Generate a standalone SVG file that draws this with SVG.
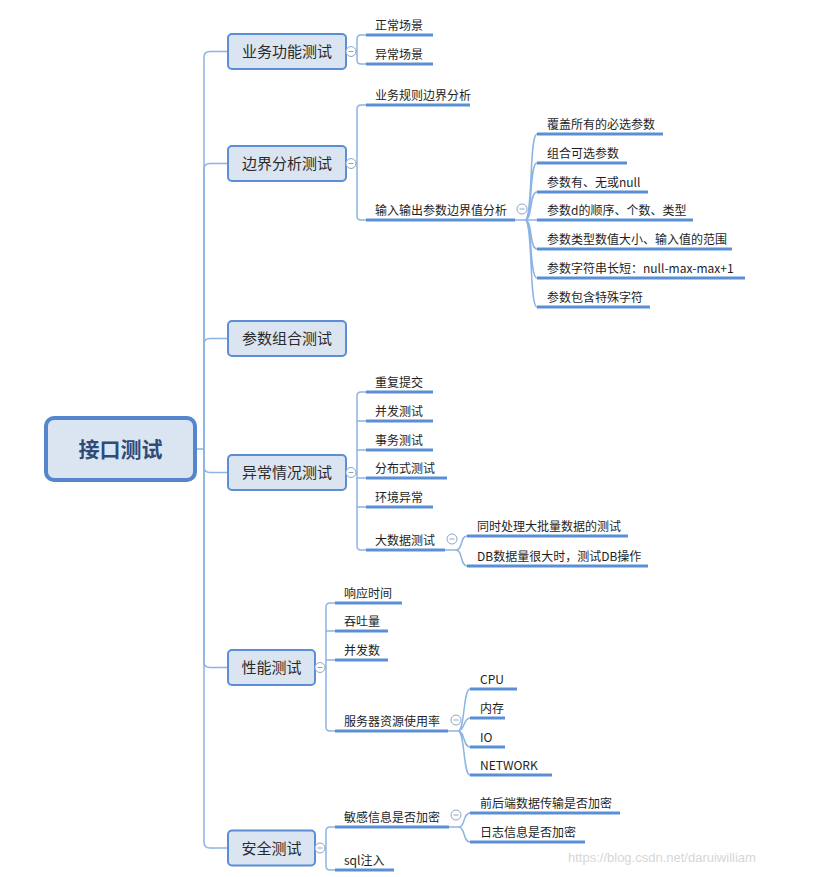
<svg xmlns="http://www.w3.org/2000/svg" width="814" height="877" viewBox="0 0 814 877">
<style>
text{font-family:"Microsoft YaHei","Noto Sans CJK SC","Noto Sans",sans-serif;fill:#1e1e1e}
.root rect{fill:#dbe5f1;stroke:#5585cc;stroke-width:4}
.root text{font-size:21px;font-weight:bold;fill:#2f4b7a;text-anchor:middle}
.n1 rect{fill:#dbe5f1;stroke:#5b8ed4;stroke-width:2}
.n1 text{font-size:15px;fill:#2a2a2a;text-anchor:middle}
.lf text{font-size:12px}
.lf line{stroke:#5a8fd6;stroke-width:3}
.c{stroke:#8db4e4;stroke-width:1.5;fill:none}
.col circle{fill:#fff;stroke:#8ea6c4;stroke-width:1}
.col line{stroke:#8ea6c4;stroke-width:1}
.wm{font-family:"Liberation Sans",Arial,sans-serif;font-size:13px;fill:#d6d6d6}
</style>
<g id="connectors">
<path class="c" d="M195 449H204V57Q204 51.5 210 51.5H228"/>
<path class="c" d="M204 449V169Q204 163.5 210 163.5H228"/>
<path class="c" d="M204 449V344Q204 338.5 210 338.5H228"/>
<path class="c" d="M204 449V467Q204 472.5 210 472.5H228"/>
<path class="c" d="M204 449V662Q204 667.5 210 667.5H228"/>
<path class="c" d="M204 449V842Q204 848 210 848H228"/>
<path class="c" d="M346 51.5H357M357 51.5V39Q357 35 361 35H366M357 51.5V60Q357 64 361 64H366"/>
<path class="c" d="M346 163.5H357M357 163.5V109Q357 105 361 105H366M357 163.5V216Q357 220 361 220H366"/>
<path class="c" d="M346 472.5H357M357 472.5V396Q357 392 361 392H366M357 421H366M357 450H366M357 478H366M357 507H366M357 472.5V546Q357 550 361 550H366"/>
<path class="c" d="M315 667.5H326M326 667.5V607Q326 603 330 603H335M326 631H335M326 660H335M326 667.5V727Q326 731 330 731H335"/>
<path class="c" d="M315 848H326M326 848V831Q326 827 330 827H335M326 848V866Q326 870 330 870H335"/>
<path class="c" d="M515 220H525C533 220 529 134 537 134M525 220C533 220 529 163 537 163M525 220C533 220 529 192 537 192M525 220H537M525 220C533 220 529 249 537 249M525 220C533 220 529 278 537 278M525 220C533 220 529 307 537 307"/>
<path class="c" d="M445 550H456C463 550 460 536 467 536M456 550C463 550 460 566 467 566"/>
<path class="c" d="M448 731H458C465 731 463 689 470 689M458 731C465 731 463 718 470 718M458 731C465 731 463 747 470 747M458 731C465 731 463 775 470 775"/>
<path class="c" d="M449 827H459C465 827 463 813 470 813M459 827C465 827 463 842 470 842"/>
</g>
<g id="root" class="root"><rect x="46" y="418" width="149" height="62" rx="8"/><text x="120.5" y="457">接口测试</text></g>
<g id="n-yewu" class="n1"><rect x="228" y="34" width="118" height="35" rx="4"/><text x="287" y="57">业务功能测试</text></g>
<g id="n-bianjie" class="n1"><rect x="228" y="146" width="118" height="35" rx="4"/><text x="287" y="169">边界分析测试</text></g>
<g id="n-canshu" class="n1"><rect x="228" y="321" width="118" height="35" rx="4"/><text x="287" y="344">参数组合测试</text></g>
<g id="n-yichang" class="n1"><rect x="228" y="455" width="118" height="35" rx="4"/><text x="287" y="478">异常情况测试</text></g>
<g id="n-xingneng" class="n1"><rect x="228" y="650" width="87" height="35" rx="4"/><text x="271.5" y="673">性能测试</text></g>
<g id="n-anquan" class="n1"><rect x="228" y="830.5" width="87" height="35" rx="4"/><text x="271.5" y="853.5">安全测试</text></g>
<g id="leaves" class="lf">
<g id="l1"><line x1="366" y1="35" x2="433" y2="35"/><text x="375" y="30">正常场景</text></g>
<g id="l2"><line x1="366" y1="64" x2="433" y2="64"/><text x="375" y="59">异常场景</text></g>
<g id="l3"><line x1="366" y1="105" x2="470" y2="105"/><text x="375" y="100">业务规则边界分析</text></g>
<g id="l4"><line x1="366" y1="220" x2="515" y2="220"/><text x="375" y="215">输入输出参数边界值分析</text></g>
<g id="l5"><line x1="537" y1="134" x2="663" y2="134"/><text x="547" y="129">覆盖所有的必选参数</text></g>
<g id="l6"><line x1="537" y1="163" x2="627" y2="163"/><text x="547" y="158">组合可选参数</text></g>
<g id="l7"><line x1="537" y1="192" x2="648" y2="192"/><text x="547" y="187">参数有、无或null</text></g>
<g id="l8"><line x1="537" y1="220" x2="693" y2="220"/><text x="547" y="215">参数d的顺序、个数、类型</text></g>
<g id="l9"><line x1="537" y1="249" x2="732" y2="249"/><text x="547" y="244">参数类型数值大小、输入值的范围</text></g>
<g id="l10"><line x1="537" y1="278" x2="745" y2="278"/><text x="547" y="273">参数字符串长短：null-max-max+1</text></g>
<g id="l11"><line x1="537" y1="307" x2="650" y2="307"/><text x="547" y="302">参数包含特殊字符</text></g>
<g id="l12"><line x1="366" y1="392" x2="433" y2="392"/><text x="375" y="387">重复提交</text></g>
<g id="l13"><line x1="366" y1="421" x2="433" y2="421"/><text x="375" y="416">并发测试</text></g>
<g id="l14"><line x1="366" y1="450" x2="433" y2="450"/><text x="375" y="445">事务测试</text></g>
<g id="l15"><line x1="366" y1="478" x2="447" y2="478"/><text x="375" y="473">分布式测试</text></g>
<g id="l16"><line x1="366" y1="507" x2="433" y2="507"/><text x="375" y="502">环境异常</text></g>
<g id="l17"><line x1="366" y1="550" x2="445" y2="550"/><text x="375" y="545">大数据测试</text></g>
<g id="l18"><line x1="467" y1="536" x2="628" y2="536"/><text x="477" y="531">同时处理大批量数据的测试</text></g>
<g id="l19"><line x1="467" y1="566" x2="648" y2="566"/><text x="477" y="561">DB数据量很大时，测试DB操作</text></g>
<g id="l20"><line x1="335" y1="603" x2="402" y2="603"/><text x="344" y="598">响应时间</text></g>
<g id="l21"><line x1="335" y1="631" x2="388" y2="631"/><text x="344" y="626">吞吐量</text></g>
<g id="l22"><line x1="335" y1="660" x2="388" y2="660"/><text x="344" y="655">并发数</text></g>
<g id="l23"><line x1="335" y1="731" x2="448" y2="731"/><text x="344" y="726">服务器资源使用率</text></g>
<g id="l24"><line x1="470" y1="689" x2="517" y2="689"/><text x="480" y="684">CPU</text></g>
<g id="l25"><line x1="470" y1="718" x2="505" y2="718"/><text x="480" y="713">内存</text></g>
<g id="l26"><line x1="470" y1="747" x2="505" y2="747"/><text x="480" y="742">IO</text></g>
<g id="l27"><line x1="470" y1="775" x2="552" y2="775"/><text x="480" y="770">NETWORK</text></g>
<g id="l28"><line x1="335" y1="827" x2="449" y2="827"/><text x="344" y="822">敏感信息是否加密</text></g>
<g id="l29"><line x1="335" y1="870" x2="394" y2="870"/><text x="344" y="865">sql注入</text></g>
<g id="l30"><line x1="470" y1="813" x2="620" y2="813"/><text x="480" y="808">前后端数据传输是否加密</text></g>
<g id="l31"><line x1="470" y1="842" x2="585" y2="842"/><text x="480" y="837">日志信息是否加密</text></g>
</g>
<g id="collapse" class="col">
<circle cx="351" cy="51.5" r="5"/><line x1="348.5" y1="51.5" x2="353.5" y2="51.5"/>
<circle cx="351" cy="163.5" r="5"/><line x1="348.5" y1="163.5" x2="353.5" y2="163.5"/>
<circle cx="351" cy="472.5" r="5"/><line x1="348.5" y1="472.5" x2="353.5" y2="472.5"/>
<circle cx="320" cy="667.5" r="5"/><line x1="317.5" y1="667.5" x2="322.5" y2="667.5"/>
<circle cx="320" cy="848" r="5"/><line x1="317.5" y1="848" x2="322.5" y2="848"/>
<circle cx="522" cy="209" r="5"/><line x1="519.5" y1="209" x2="524.5" y2="209"/>
<circle cx="452" cy="539" r="5"/><line x1="449.5" y1="539" x2="454.5" y2="539"/>
<circle cx="456" cy="720" r="5"/><line x1="453.5" y1="720" x2="458.5" y2="720"/>
<circle cx="456" cy="815" r="5"/><line x1="453.5" y1="815" x2="458.5" y2="815"/>
</g>
<text class="wm" x="568" y="862">https://blog.csdn.net/daruiwilliam</text>
</svg>
